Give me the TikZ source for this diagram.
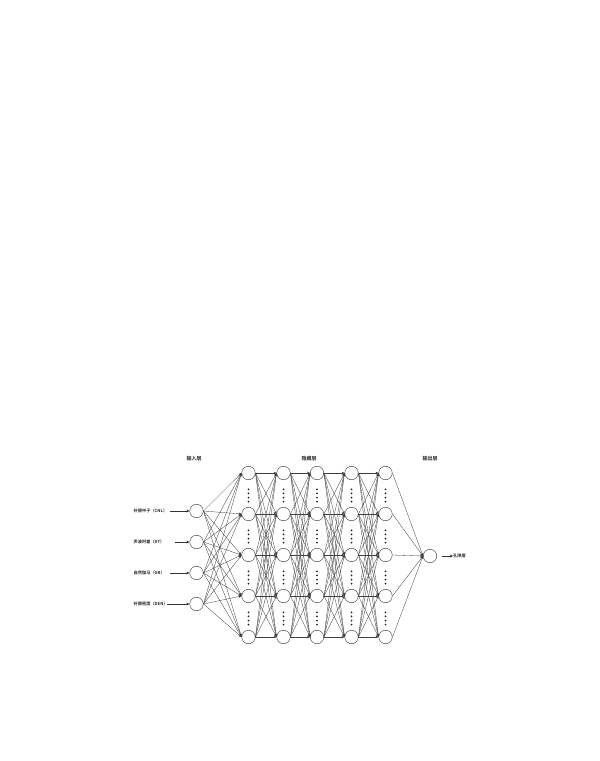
\documentclass[tikz,border=0pt]{standalone}
\usepackage{fontspec}
\newfontfamily\cjk{Noto Sans CJK SC Bold}
\usetikzlibrary{arrows.meta}
\begin{document}
\begin{tikzpicture}[x=1pt,y=-1pt,
 neuron/.style={circle,draw=black!75,line width=0.45pt,minimum size=13.5pt,inner sep=0pt,fill=white},
 conn/.style={draw=black!75,line width=0.32pt,-{Stealth[length=3pt,width=2.6pt]}},
 tagarrow/.style={draw=black!80,line width=0.4pt,-{Stealth[length=3.2pt,width=2.8pt]}},
 lbl/.style={font=\cjk\fontsize{4.2}{5}\selectfont,text=black!85,inner sep=0pt},
 ttl/.style={font=\cjk\fontsize{5}{6}\selectfont,text=black!85,inner sep=0pt},
 dotm/.style={circle,fill=black!85,minimum size=2pt,inner sep=0pt}]
\useasboundingbox (0,0) rectangle (600,761);
\fill[white] (0,0) rectangle (600,761);

% titles
\node[ttl] (t1) at (194,458.5) {输入层};
\node[ttl] (t2) at (309,458.5) {隐藏层};
\node[ttl] (t3) at (430,458.5) {输出层};

% input nodes
\foreach \i/\y in {1/511,2/542,3/573,4/604}
  \node[neuron] (i\i) at (196.5,\y) {};

% hidden nodes
\foreach \l/\x in {1/248.5,2/283.5,3/317,4/351.5,5/385.5}
  \foreach \j/\y in {1/473,2/514,3/555,4/596,5/637}
    \node[neuron] (h\l-\j) at (\x,\y) {};

% output node
\node[neuron] (o) at (430,556) {};

% dots between hidden nodes
\foreach \l/\x in {1/248.5,2/283.5,3/317,4/351.5,5/385.5}
  \foreach \j/\y in {1/495.5,2/536.5,3/577.5,4/618.5}
    \foreach \k/\d in {1/-6.15,2/-2.05,3/2.05,4/6.15}
      \node[dotm] (d\l-\j-\k) at (\x,\y+\d) {};

% input -> hidden 1
\foreach \i in {1,...,4}
  \foreach \j in {1,...,5}
    \draw[conn] (i\i.east) -- (h1-\j.west);

% hidden -> hidden
\foreach \l [evaluate=\l as \m using int(\l+1)] in {1,...,4}
  \foreach \j in {1,...,5}
    \foreach \k in {1,...,5}
      \draw[conn] (h\l-\j.east) -- (h\m-\k.west);

% hidden 5 -> output
\foreach \j in {1,...,5}
  \draw[conn] (h5-\j.east) -- (o.west);

% input labels
\node[lbl,anchor=west] (l1) at (133.5,511) {补偿中子（CNL）};
\node[lbl,anchor=west] (l2) at (133.5,542) {声波时差（DT）};
\node[lbl,anchor=west] (l3) at (133.5,573) {自然伽马（GR）};
\node[lbl,anchor=west] (l4) at (133.5,604) {补偿密度（DEN）};
\coordinate (a1) at (169.5,511);
\coordinate (a2) at (175,542);
\coordinate (a3) at (170,573);
\coordinate (a4) at (167,604);
\foreach \i in {1,...,4}
  \draw[tagarrow] (a\i) -- (i\i.west);

% output label
\node[lbl,anchor=west] (out) at (453,556) {孔隙度};
\coordinate (oa) at (441.5,556);
\draw[tagarrow] (oa) -- (out.west);
\end{tikzpicture}
\end{document}
